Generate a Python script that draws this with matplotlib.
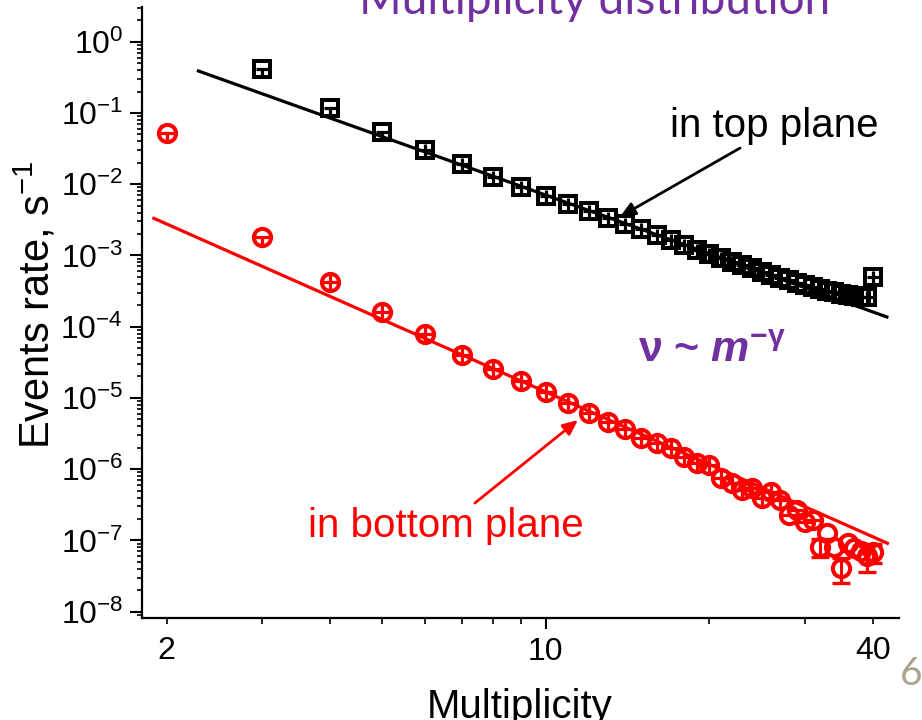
import numpy as np
import matplotlib
matplotlib.use('Agg')
import matplotlib.pyplot as plt
from matplotlib.ticker import FixedLocator, NullFormatter, FuncFormatter, LogLocator

plt.rcParams['font.family'] = ['Liberation Sans', 'DejaVu Sans']
plt.rcParams['mathtext.fontset'] = 'custom'
plt.rcParams['mathtext.rm'] = 'Liberation Sans'
plt.rcParams['mathtext.it'] = 'Liberation Sans:italic'
plt.rcParams['mathtext.bf'] = 'Liberation Sans:bold'
plt.rcParams['mathtext.bfit'] = 'Liberation Sans:bold:italic'

# ---------------- data ----------------
m_top = list(range(3, 41))
rate_top = [0.414, 0.119, 0.0546, 0.0302, 0.0192, 0.0127, 0.00923, 0.00683,
            0.00527, 0.00417, 0.00336, 0.00277, 0.00233, 0.00192, 1.66e-3,
            1.41e-3, 1.20e-3, 1.05e-3, 9.35e-4, 8.22e-4, 7.39e-4, 6.62e-4,
            5.95e-4, 5.35e-4, 4.83e-4, 4.45e-4, 4.10e-4, 3.85e-4, 3.61e-4,
            3.38e-4, 3.22e-4, 3.07e-4, 2.92e-4, 2.79e-4, 2.70e-4, 2.65e-4,
            2.61e-4, 5.03e-4]

m_bottom = list(range(2, 41))
rate_bottom = [0.0518, 1.80e-3, 4.20e-4, 1.62e-4, 7.82e-5, 4.01e-5, 2.52e-5,
               1.75e-5, 1.20e-5, 8.57e-6, 6.08e-6, 4.64e-6, 3.63e-6, 2.71e-6,
               2.31e-6, 1.96e-6, 1.50e-6, 1.21e-6, 1.15e-6, 7.45e-7, 6.34e-7,
               5.10e-7, 5.39e-7, 3.90e-7, 4.83e-7, 3.70e-7, 2.28e-7, 2.67e-7,
               1.83e-7, 1.94e-7, 8.17e-8, 1.26e-7, 8.17e-8, 4.07e-8, 9.12e-8,
               7.76e-8, 7.00e-8, 6.05e-8, 6.95e-8]
err_bottom = [0] * 30 + [2.3e-8, 0, 0, 1.56e-8, 0, 0, 0, 2.4e-8, 2.07e-8]

fit_top_m = [2.29, 42.5]
fit_top_rate = [0.388, 1.37e-4]
fit_bottom_m = [1.895, 42.6]
fit_bottom_rate = [3.32e-3, 9.12e-8]

x_tick_labels = {2: '2', 10: '10', 40: '40'}

half_cross_top = [3, 4, 5]
half_cross_bottom = [2, 3]
bar_only_bottom = [28, 29, 30, 31]      # only a horizontal stroke inside
plain_bottom_from = 32                  # plain open circles from here on

PURPLE = '#7030A0'
RED = '#FF0000'

# ---------------- figure ----------------
fig = plt.figure(figsize=(9.22, 7.2), dpi=100)
W, H = 922, 720
ax = fig.add_axes([141.7 / W, 1 - 618.3 / H, (899.3 - 141.7) / W, (618.3 - 6.7) / H])
ax.set_xscale('log')
ax.set_yscale('log')
ax.set_xlim(1.80, 44.8)
ax.set_ylim(8.07e-9, 3.1)

# fit lines
ax.plot(fit_top_m, fit_top_rate, color='black', lw=2.3, zorder=2)
ax.plot(fit_bottom_m, fit_bottom_rate, color=RED, lw=2.3, zorder=2)

# error bars for bottom plane
mb = np.array(m_bottom)
rb = np.array(rate_bottom)
eb = np.array(err_bottom)
sel = eb > 0
ax.errorbar(mb[sel], rb[sel], yerr=eb[sel], fmt='none', ecolor=RED,
            elinewidth=2.2, capsize=6.5, capthick=2.4, zorder=3)

# markers
ax.plot(m_top, rate_top, ls='none', marker='s', ms=11.2, mew=2.9,
        mfc='none', mec='black', zorder=4)
ax.plot(m_bottom, rate_bottom, ls='none', marker='o', ms=12.4, mew=2.9,
        mfc='none', mec=RED, zorder=4)

# inner crosses
mt = np.array(m_top); rt = np.array(rate_top)
full_t = ~np.isin(mt, half_cross_top)
ax.plot(mt[full_t], rt[full_t], ls='none', marker='+', ms=8, mew=2.3, color='black', zorder=5)
ax.plot(mt[~full_t], rt[~full_t], ls='none', marker='_', ms=8, mew=2.3, color='black', zorder=5)
ax.plot(mt[~full_t], rt[~full_t], ls='none', marker=3, ms=4.8, mew=2.3, color='black', zorder=5)

half_b = np.isin(mb, half_cross_bottom)
bar_b = np.isin(mb, bar_only_bottom)
full_b = ~half_b & ~bar_b & (mb < plain_bottom_from)
ax.plot(mb[full_b], rb[full_b], ls='none', marker='+', ms=9.5, mew=2.3, color=RED, zorder=5)
ax.plot(mb[half_b | bar_b], rb[half_b | bar_b], ls='none', marker='_', ms=9.5, mew=2.3, color=RED, zorder=5)
ax.plot(mb[half_b], rb[half_b], ls='none', marker=3, ms=5.3, mew=2.3, color=RED, zorder=5)

# spines & ticks
for s in ['top', 'right']:
    ax.spines[s].set_visible(False)
for s in ['left', 'bottom']:
    ax.spines[s].set_linewidth(1.6)

ax.xaxis.set_major_locator(FixedLocator([10]))
ax.xaxis.set_major_formatter(FuncFormatter(lambda v, p: x_tick_labels.get(int(round(v)), '')))
ax.xaxis.set_minor_locator(FixedLocator([2, 3, 4, 5, 6, 7, 8, 9, 20, 30, 40]))
ax.xaxis.set_minor_formatter(FuncFormatter(lambda v, p: x_tick_labels.get(int(round(v)), '')))

ax.yaxis.set_major_locator(LogLocator(base=10, numticks=30))
ax.yaxis.set_major_formatter(FuncFormatter(lambda v, p: r'$\mathregular{10^{%d}}$' % int(round(np.log10(v)))))
ax.yaxis.set_minor_locator(LogLocator(base=10, subs=np.arange(2, 10), numticks=100))
ax.yaxis.set_minor_formatter(NullFormatter())

ax.tick_params(axis='both', which='both', direction='out', labelsize=23, colors='black')
ax.tick_params(axis='y', which='major', length=8.4, width=1.5, pad=5)
ax.tick_params(axis='y', which='minor', length=3.6, width=1.2)
ax.tick_params(axis='x', which='major', length=7.7, width=1.5, pad=6)
ax.tick_params(axis='x', which='minor', length=4.0, width=1.2, pad=9)

# axis labels
fig.text(520 / W, 1 - 718 / H, 'Multiplicity', ha='center', va='baseline', fontsize=29)
fig.text(36 / W, 1 - 305 / H, r'Events rate, s$^{\mathregular{-1}}$', rotation=90,
         ha='center', va='center', fontsize=30)

# annotations
fig.text(670 / W, 1 - 137 / H, 'in top plane', ha='left', va='baseline', fontsize=29, color='black')
ax.annotate('', xy=(13.7, 3.5e-3), xytext=(22.8, 0.0322),
            arrowprops=dict(arrowstyle='-|>,head_length=0.9,head_width=0.4', color='black', lw=2.0,
                            shrinkA=0, shrinkB=0))
fig.text(308 / W, 1 - 537 / H, 'in bottom plane', ha='left', va='baseline', fontsize=29, color=RED)
ax.annotate('', xy=(11.46, 4.9e-6), xytext=(7.40, 3.35e-7),
            arrowprops=dict(arrowstyle='-|>,head_length=0.9,head_width=0.4', color=RED, lw=2.0,
                            shrinkA=0, shrinkB=0))

fig.text(638 / W, 1 - 362 / H, r'$\mathbf{\nu}$ ~ $\mathbfit{m}^{\mathbf{-\gamma}}$',
         ha='left', va='baseline', fontsize=31, color=PURPLE, fontweight='bold')

# slide title (cut) and slide number
fig.text(595 / W, 1 - 14 / H, 'Multiplicity distribution', ha='center', va='baseline',
         fontsize=33, color=PURPLE, family=['Lato', 'DejaVu Sans'])
fig.text(900 / W, 1 - 685 / H, '6', ha='left', va='baseline', fontsize=28,
         color='#ADA38A', family=['Lato', 'DejaVu Sans'])

fig.savefig('out.png', dpi=100)
